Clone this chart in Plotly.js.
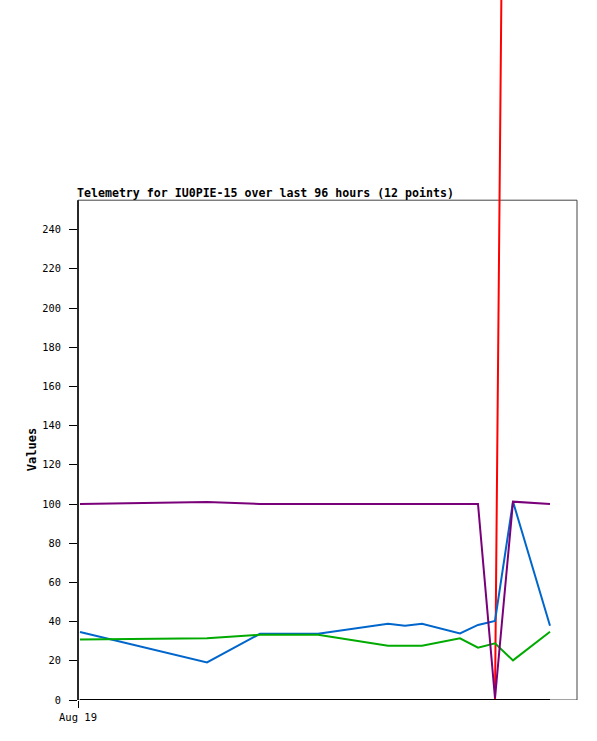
<!DOCTYPE html>
<html>
<head>
<meta charset="utf-8">
<script src="https://cdn.plot.ly/plotly-3.0.1.min.js"></script>
<style>html,body{margin:0;padding:0;background:#fff;}#chart{width:597px;height:741px;}</style>
</head>
<body>
<div id="chart"></div>
<script>
// Sample timestamps (12 points)
const times = [
  "2024-08-19 00:04", "2024-08-19 04:18", "2024-08-19 06:04", "2024-08-19 08:00",
  "2024-08-19 10:20", "2024-08-19 10:54", "2024-08-19 11:28", "2024-08-19 12:44",
  "2024-08-19 13:20", "2024-08-19 13:54", "2024-08-19 14:30", "2024-08-19 15:44"
];
const redValues    = [0, 0, 0, 0, 0, 0, 0, 0, 0, 0, 1013, 1013];
const blackValues  = [0, 0, 0, 0, 0, 0, 0, 0, 0, 0, 0, 0];
const blueValues   = [34.7, 19.2, 33.8, 33.8, 38.9, 37.9, 38.9, 34.0, 38.3, 40.3, 101.2, 37.9];
const greenValues  = [30.9, 31.5, 33.3, 33.3, 27.7, 27.7, 27.7, 31.5, 26.7, 28.9, 20.2, 34.8];
const purpleValues = [100.0, 101.0, 100.0, 100.0, 100.0, 100.0, 100.0, 100.0, 100.0, 1.0, 101.2, 100.0];
const yTicks = [0, 20, 40, 60, 80, 100, 120, 140, 160, 180, 200, 220, 240];
const xTickVals = ["2024-08-19 00:00"];
const xTickText = ["Aug 19"];
const titleText = "Telemetry for IU0PIE-15 over last 96 hours (12 points)";
const yTitle = "Values";

const frameTop = 255;
const mono = "DejaVu Sans Mono, Liberation Mono, monospace";

function line(y, color) {
  return {x: times, y: y, type: "scatter", mode: "lines",
          line: {color: color, width: 2}, hoverinfo: "skip", showlegend: false};
}
const data = [
  line(redValues, "#ff0000"),
  line(blackValues, "#000000"),
  line(blueValues, "#0066cc"),
  line(greenValues, "#00aa00"),
  line(purpleValues, "#7a007a")
];

const layout = {
  width: 597, height: 741,
  margin: {l: 78, r: 20, t: 0, b: 41, pad: 0},
  paper_bgcolor: "#fff", plot_bgcolor: "rgba(0,0,0,0)",
  showlegend: false,
  xaxis: {
    type: "date",
    range: ["2024-08-19 00:00", "2024-08-19 16:38"],
    tickvals: xTickVals, ticktext: xTickText,
    ticks: "outside", ticklen: 7, tickcolor: "#000", tickwidth: 1,
    showgrid: false, zeroline: false, showline: false,
    tickfont: {family: mono, size: 10.5, color: "#000"},
    fixedrange: true
  },
  yaxis: {
    range: [0, 700 / 1.96],
    tickvals: yTicks,
    ticks: "outside", ticklen: 8, tickcolor: "#000", tickwidth: 1,
    ticklabelstandoff: 6,
    showgrid: false, zeroline: false, showline: false,
    tickfont: {family: mono, size: 10.3, color: "#000"},
    fixedrange: true
  },
  shapes: [
    {type: "rect", xref: "paper", yref: "y", x0: 0, x1: 1, y0: 0, y1: frameTop,
     line: {color: "#444", width: 1}, fillcolor: "rgba(0,0,0,0)", layer: "below"},
    {type: "line", xref: "paper", yref: "y", x0: 0, x1: 0, y0: 0, y1: frameTop,
     line: {color: "#000", width: 1.5}, layer: "above"}
  ],
  annotations: [
    {text: "<b>" + titleText + "</b>", xref: "paper", yref: "y", x: 0, y: frameTop,
     xanchor: "left", yanchor: "bottom", xshift: -3, yshift: -2, showarrow: false,
     font: {family: mono, size: 11.6, color: "#000"}},
    {text: "<b>" + yTitle + "</b>", xref: "paper", yref: "y", x: -0.092, y: frameTop / 2,
     xanchor: "center", yanchor: "middle", textangle: -90, showarrow: false,
     font: {family: mono, size: 12, color: "#000"}}
  ]
};

Plotly.newPlot("chart", data, layout, {displayModeBar: false, staticPlot: true});
</script>
</body>
</html>
